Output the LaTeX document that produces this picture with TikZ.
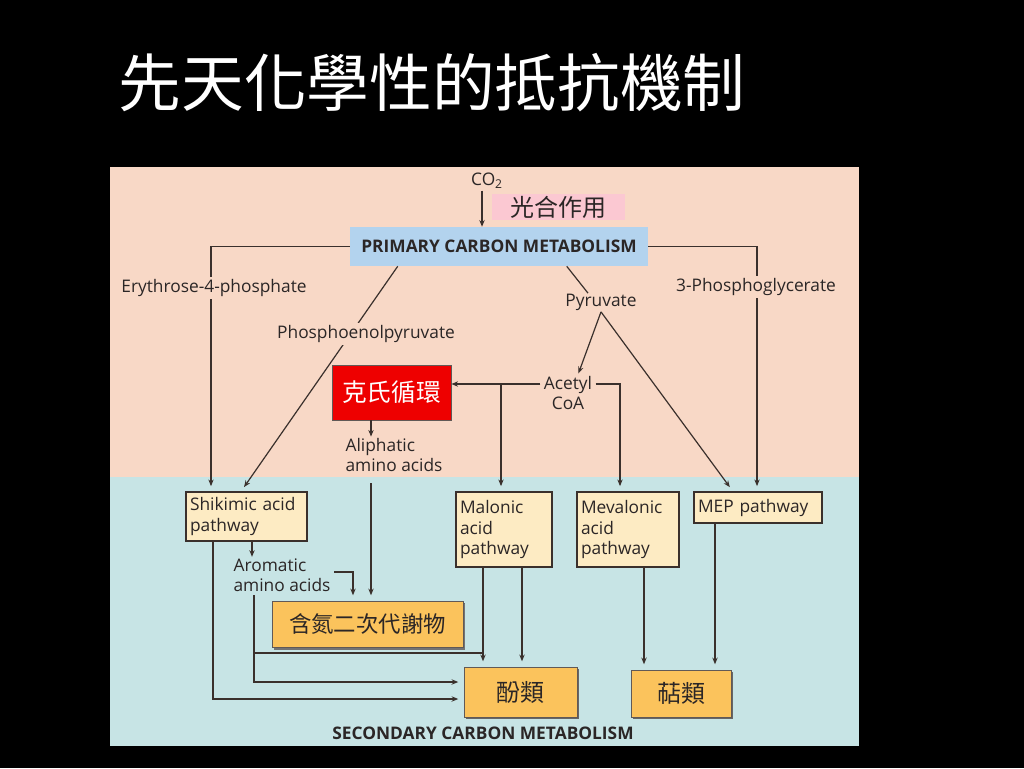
\documentclass[tikz,border=0pt]{standalone}
\usepackage{fontspec}
\setmainfont{Open Sans}
\newfontfamily\cjk{Noto Sans CJK TC}
\usetikzlibrary{arrows.meta,calc,shadows}
\definecolor{peach}{HTML}{F8D8C6}
\definecolor{paleblue}{HTML}{C7E4E5}
\definecolor{primblue}{HTML}{B3D3EE}
\definecolor{cream}{HTML}{FDEBC3}
\definecolor{gold}{HTML}{FBC35C}
\definecolor{kred}{HTML}{EE0000}
\definecolor{pinkbg}{HTML}{FBC8D2}
\definecolor{ink}{HTML}{3A302C}
\definecolor{txt}{HTML}{2B2626}
\begin{document}
\begin{tikzpicture}[x=0.75pt,y=-0.75pt,
  conn/.style={draw=ink,line width=0.9pt},
  arr/.style={conn,-{Stealth[length=5pt,width=4pt]}},
  arrb/.style={arr,shorten >=4pt},
  lbl/.style={font=\fontsize{13}{15.2}\selectfont,text=txt,inner sep=1pt,align=left},
  plbl/.style={lbl,fill=peach,inner sep=2pt},
  pathbox/.style={draw=ink,line width=0.8pt,fill=cream,font=\fontsize{13}{15.2}\selectfont,text=txt,align=left,inner xsep=3pt,inner ysep=2pt},
  prodbox/.style={draw=ink!80,line width=0.6pt,fill=gold,text=txt,font=\cjk\fontsize{18}{20}\selectfont,inner sep=0pt,
    drop shadow={shadow xshift=1.2pt,shadow yshift=-1.2pt,fill=black!60,opacity=1}},
  headtext/.style={font=\bfseries\fontsize{13}{15}\selectfont,text=txt,inner sep=0pt}
]
% backgrounds
\fill[black] (0,0) rectangle (1024,768);
\fill[peach] (110,167) rectangle (859,477);
\fill[paleblue] (110,477) rectangle (859,746);
\useasboundingbox (0,0) rectangle (1024,768);

% title
\node[text=white,font=\cjk\fontsize{47}{52}\selectfont,inner sep=0pt] (title) at (432,83) {先天化學性的抵抗機制};

% top nodes
\node[font=\fontsize{13}{15}\selectfont,text=txt,inner sep=1pt] (co2) at (487,181) {CO\textsubscript{2}};
\node[fill=pinkbg,minimum width=99.75pt,minimum height=19.5pt,inner sep=0pt,text=txt,font=\cjk\fontsize{18}{20}\selectfont] (photo) at (558.5,207) {光合作用};
\node[fill=primblue,minimum width=223.5pt,minimum height=29.25pt,headtext] (prim) at (499,246.5) {PRIMARY CARBON METABOLISM};

\node[draw=ink!80,line width=0.6pt,fill=kred,minimum width=89.25pt,minimum height=41.25pt,inner sep=0pt,text=white,font=\cjk\fontsize{18.5}{20}\selectfont] (kreb) at (391.5,392.5) {克氏循環};

\node[lbl] (pyr) at (601,302) {Pyruvate};
\node[lbl,align=center] (acoa) at (568,393) {Acetyl\\CoA};
\node[lbl,anchor=west] (ali) at (344,455) {Aliphatic\\amino acids};

% pathway boxes
\node[pathbox,text width=84.75pt,minimum height=36.75pt] (shik) at (246.5,516.5) {Shikimic acid\\pathway};
\node[pathbox,text width=66pt,minimum height=56.25pt] (mal) at (504,529.5) {Malonic\\acid\\pathway};
\node[pathbox,text width=70.5pt,minimum height=56.25pt] (mev) at (628,529.5) {Mevalonic\\acid\\pathway};
\node[pathbox,text width=90pt,minimum height=23.25pt] (mep) at (758,507.5) {MEP pathway};

\node[lbl,anchor=west] (arom) at (232,575) {Aromatic\\amino acids};

% product boxes
\node[prodbox,minimum width=143.25pt,minimum height=34.5pt,font=\cjk\fontsize{16.8}{20}\selectfont,
  drop shadow={shadow xshift=1.8pt,shadow yshift=-2.2pt,fill=black!55,opacity=1}] (nit) at (367.5,624) {含氮二次代謝物};
\node[prodbox,minimum width=84.75pt,minimum height=37.5pt] (phen) at (520.5,692) {酚類};
\node[prodbox,minimum width=75pt,minimum height=35.25pt] (terp) at (681,693.5) {萜類};

\node[headtext] (sec) at (483,733) {SECONDARY CARBON METABOLISM};

% connectors
\draw[arr] ($(co2.south)+(-5,0)$) coordinate (c1) -- (c1 |- prim.north);

% left branch: Erythrose-4-phosphate
\draw[arrb] (prim.west) -| ($(shik.north)+(-35.5,0)$);
\node[plbl] (e4p) at (214,288) {Erythrose-4-phosphate};

% PEP
\draw[arrb] ($(prim.south west)+(48,0)$) -- ($(shik.north)+(-5.5,0)$);
\node[plbl] (pep) at (366,334) {Phosphoenolpyruvate};

% right branch: 3-Phosphoglycerate
\draw[arrb] (prim.east) -| ($(mep.north)+(-1,0)$);
\node[plbl] (pg) at (756,287) {3-Phosphoglycerate};

% pyruvate
\draw[conn] ($(prim.south west)+(217,0)$) -- ($(pyr.north)+(-13,1)$);
\draw[arr,shorten >=1pt] (pyr.south) -- ($(acoa.north)+(10,0)$);
\draw[arrb] (pyr.south) -- ($(mep.north)+(-25,0)$);

% acetyl CoA
\draw[arr] ($(acoa.west)+(-2,-9)$) coordinate (aw) -- (aw -| kreb.east);
\draw[arrb] ($(mal.north)+(-3,0)$) coordinate (mt) (mt |- aw) -- (mt);
\draw[arrb] ($(acoa.east)+(2,-9)$) -| ($(mev.north)+(-8,0)$);

% Krebs -> aliphatic
\draw[arr] ($(kreb.south)+(-20.5,0)$) coordinate (k1) -- (k1 |- ali.north);
\coordinate (alstart) at (371,483);
\draw[arrb] (alstart) -- (alstart |- nit.north);

% shikimic -> aromatic
\draw[arr] ($(shik.south)+(5.5,0)$) coordinate (s1) -- (s1 |- arom.north);
\draw[arrb] ($(arom.east)+(2,-3)$) -| ($(nit.north)+(-14.5,0)$);
\coordinate (ar2) at (254,595);
\draw[arrb] (ar2) |- ($(phen.west)+(0,-10)$);
\draw[arrb] ($(shik.south)+(-33.5,0)$) |- ($(phen.west)+(0,7)$);

% malonic
\draw[arrb] ($(mal.south)+(-21,0)$) coordinate (m1) -- (m1 |- phen.north);
\draw[arrb] ($(mal.south)+(18,0)$) coordinate (m2) -- (m2 |- phen.north);
\coordinate (j1) at (254,653);
\draw[conn] (j1) -- (j1 -| m1);

% mevalonic & MEP -> terpenes
\draw[arrb] ($(mev.south)+(16,0)$) coordinate (v1) -- (v1 |- terp.north);
\draw[arrb] ($(mep.south)+(-43,0)$) coordinate (p1) -- (p1 |- terp.north);
\end{tikzpicture}
\end{document}
